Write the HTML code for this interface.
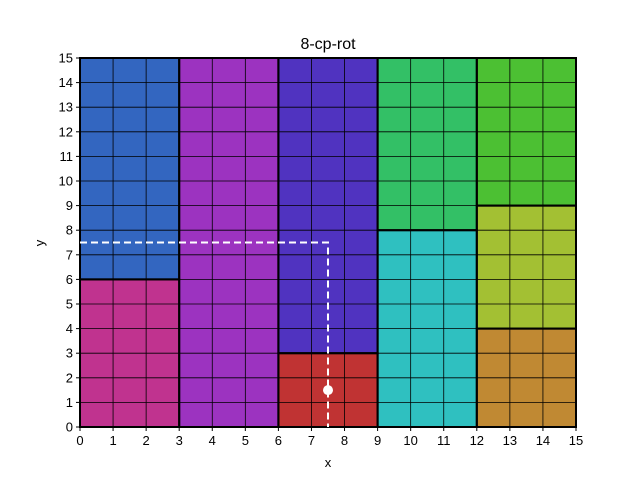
<!DOCTYPE html>
<html><head><meta charset="utf-8"><style>
html,body{margin:0;padding:0;background:#fff;}
svg{display:block;font-family:"Liberation Sans","DejaVu Sans",sans-serif;}
</style></head><body>
<svg id="chart" width="640" height="480" viewBox="0 0 640 480" xmlns="http://www.w3.org/2000/svg">
<text x="328" y="49" text-anchor="middle" font-size="16">8-cp-rot</text>
<g id="rects"></g><g id="grid"></g><g id="borders"></g><g id="ticks"></g><g id="overlay"></g>
<text x="328" y="467" text-anchor="middle" font-size="13">x</text>
<text x="44" y="243" text-anchor="middle" font-size="13" transform="rotate(-90 44 243)">y</text>
</svg>
<script>
const regionX0=[0,0,3,6,6,9,9,12,12,12];
const regionX1=[3,3,6,9,9,12,12,15,15,15];
const regionY0=[6,0,0,3,0,8,0,9,4,0];
const regionY1=[15,6,15,15,3,15,8,15,9,4];
const regionColors=["#3366c0","#c0338f","#9c33c0","#5033c0","#c03333","#33c066","#2fc0c0","#4cc033","#a3c033","#c08933"];
const xTicks=[0,1,2,3,4,5,6,7,8,9,10,11,12,13,14,15];
const yTicks=[0,1,2,3,4,5,6,7,8,9,10,11,12,13,14,15];
const pathX=[0,7.5,7.5];
const pathY=[7.5,7.5,0];
const pointX=[7.5];
const pointY=[1.5];
const L=80,R=576,T=58,B=427;
const sx=v=>L+(R-L)*v/15, sy=v=>B-(B-T)*v/15;
const NS="http://www.w3.org/2000/svg";
function mk(tag,attrs,parent){const e=document.createElementNS(NS,tag);for(const k in attrs)e.setAttribute(k,attrs[k]);document.getElementById(parent).appendChild(e);return e;}
regionColors.forEach((c,i)=>{
 const r=mk('rect',{x:sx(regionX0[i]),y:sy(regionY1[i]),width:sx(regionX1[i])-sx(regionX0[i]),height:sy(regionY0[i])-sy(regionY1[i]),fill:c},'rects');
 
 
 const b=mk('rect',{x:sx(regionX0[i]),y:sy(regionY1[i]),width:sx(regionX1[i])-sx(regionX0[i]),height:sy(regionY0[i])-sy(regionY1[i]),fill:'none',stroke:'#000','stroke-width':2},'borders');
 
 
});
xTicks.forEach(v=>{
 const g=mk('line',{x1:sx(v),x2:sx(v),y1:T,y2:B,stroke:'#000','stroke-width':0.8},'grid');
 
 
 mk('line',{x1:sx(v),x2:sx(v),y1:B,y2:B+4,stroke:'#000'},'ticks');
 const t=mk('text',{x:sx(v),y:B+18,'text-anchor':'middle','font-size':13},'ticks');t.textContent=v;
 
 
});
yTicks.forEach(v=>{
 const g=mk('line',{x1:L,x2:R,y1:sy(v),y2:sy(v),stroke:'#000','stroke-width':0.8},'grid');
 
 
 mk('line',{x1:L-4,x2:L,y1:sy(v),y2:sy(v),stroke:'#000'},'ticks');
 const t=mk('text',{x:L-7,y:sy(v)+4.5,'text-anchor':'end','font-size':13},'ticks');t.textContent=v;
 
 
});
const fr=mk('rect',{x:L,y:T,width:R-L,height:B-T,fill:'none',stroke:'#000','stroke-width':1},'borders');


const pl=mk('polyline',{points:pathX.map((x,i)=>sx(x)+','+sy(pathY[i])).join(' '),fill:'none',stroke:'#fff','stroke-width':2,'stroke-dasharray':'7,4'},'overlay');


pointX.forEach((x,i)=>{
 const c=mk('circle',{cx:sx(x),cy:sy(pointY[i]),r:5,fill:'#fff'},'overlay');
 
 
});
</script>
</body></html>
